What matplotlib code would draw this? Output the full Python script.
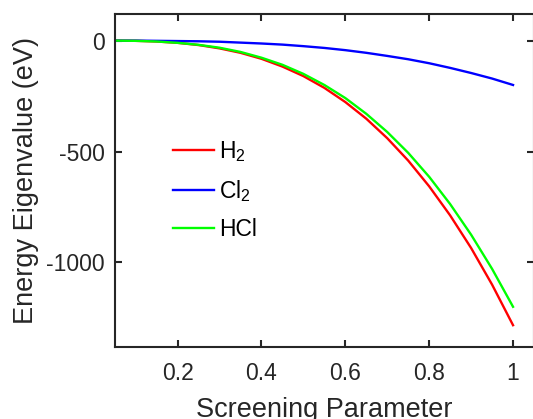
import matplotlib
matplotlib.use("Agg")
import matplotlib.pyplot as plt

plt.rcParams['font.family'] = ['Liberation Sans', 'DejaVu Sans']
plt.rcParams['mathtext.fontset'] = 'custom'
plt.rcParams['mathtext.rm'] = 'Liberation Sans'
plt.rcParams['mathtext.it'] = 'Liberation Sans:italic'
plt.rcParams['axes.unicode_minus'] = False

screening = [0.05, 0.10, 0.15, 0.20, 0.25, 0.30, 0.35, 0.40, 0.45, 0.50,
             0.55, 0.60, 0.65, 0.70, 0.75, 0.80, 0.85, 0.90, 0.95, 1.00]
h2 = [0, -1, -4, -10, -20, -35, -55, -82, -117, -160,
      -213, -277, -352, -440, -541, -657, -788, -935, -1100, -1283]
cl2 = [0, 0, -1, -2, -3, -5, -9, -13, -18, -25,
       -33, -43, -55, -69, -84, -102, -123, -146, -171, -200]
hcl = [0, -1, -4, -10, -19, -32, -51, -77, -109, -150,
       -200, -259, -330, -412, -506, -614, -737, -875, -1029, -1200]
labels = ['H$_{\\mathrm{2}}$', 'Cl$_{\\mathrm{2}}$', 'HCl']
colors = ['#ff0000', '#0000ff', '#00ff00']
xticks = [0.2, 0.4, 0.6, 0.8, 1.0]
xticklabels = ['0.2', '0.4', '0.6', '0.8', '1']
yticks = [-1000, -500, 0]

W, H = 533, 419
fig = plt.figure(figsize=(W / 100, H / 100), dpi=100)
ax = fig.add_axes([114.7 / W, 1 - 346.7 / H, (534 - 114.7) / W, (346.7 - 14) / H])

for ys, lab, c in zip([h2, cl2, hcl], labels, colors):
    ax.plot(screening, ys, color=c, lw=1.7, label=lab)

ax.set_xlim(0.05, 1.05)
ax.set_ylim(-1380, 120)
ax.set_xticks(xticks)
ax.set_xticklabels(xticklabels)
ax.set_yticks(yticks)

dark = '#262626'
for s in ax.spines.values():
    s.set_color(dark)
    s.set_linewidth(1.5)
ax.tick_params(direction='in', length=5, width=1.5, colors=dark, labelsize=16.5,
               top=True, right=True)
ax.tick_params(axis='x', pad=11)
ax.tick_params(axis='y', pad=7)

ax.set_xlabel('Screening Parameter', fontsize=19.5, color=dark, labelpad=9)
ax.set_ylabel('Energy Eigenvalue (eV)', fontsize=19.5, color=dark, labelpad=5)

leg = ax.legend(loc='upper left', bbox_to_anchor=(0.09, 0.685), frameon=False,
                fontsize=16.5, handlelength=1.8, handletextpad=0.2, labelspacing=0.6)
for t in leg.get_texts():
    t.set_color('black')

fig.savefig('out.png', dpi=100)
